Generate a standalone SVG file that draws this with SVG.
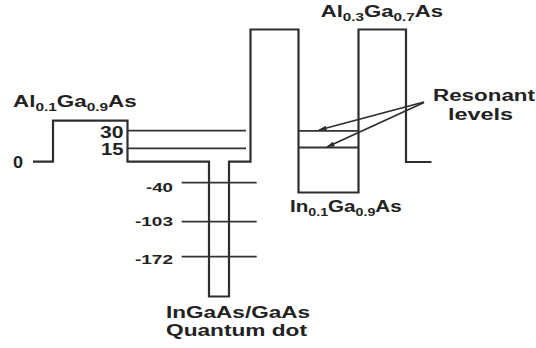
<svg xmlns="http://www.w3.org/2000/svg" width="536" height="348" viewBox="0 0 536 348">
<style>
.band{fill:none;stroke:#2e2e2e;stroke-width:2.2;stroke-linejoin:miter}
.lvl{stroke:#333;stroke-width:1.8}
.ptr{stroke:#2e2e2e;stroke-width:1.8;fill:none}
text{font-family:"Liberation Sans",Arial,sans-serif;font-weight:bold;fill:#222}
.big{font-size:16px}
.num{font-size:16px}
.small{font-size:13.5px}
.sub{font-size:11px}
</style>
<defs>
<marker id="ah" viewBox="0 0 10 6" refX="9" refY="3" markerWidth="9" markerHeight="5" markerUnits="userSpaceOnUse" orient="auto">
<path d="M0,0 L10,3 L0,6 Z" fill="#2e2e2e"/>
</marker>
</defs>
<rect width="536" height="348" fill="#fff"/>
<g id="band-profile">
<path class="band" d="M33,161.7 H53 V120.7 H127.5 V161.7 H209 V296.5 H229 V161.7 H250.5 V29.5 H298.5 V192.5 H358.5 V29.5 H406 V162 H431.5"/>
</g>
<g id="levels">
<line class="lvl" x1="127.5" y1="130.7" x2="246" y2="130.7"/>
<line class="lvl" x1="127.5" y1="148.3" x2="246" y2="148.3"/>
<line class="lvl" x1="181.7" y1="182.7" x2="256.7" y2="182.7"/>
<line class="lvl" x1="181.7" y1="221.7" x2="256.7" y2="221.7"/>
<line class="lvl" x1="181.7" y1="256.7" x2="256.7" y2="256.7"/>
<line class="lvl" x1="298.5" y1="130.8" x2="358.5" y2="130.8"/>
<line class="lvl" x1="298.5" y1="147.5" x2="358.5" y2="147.5"/>
</g>
<g id="connectors">
<line class="ptr" x1="424" y1="102" x2="319" y2="130" marker-end="url(#ah)"/>
<line class="ptr" x1="424" y1="102.5" x2="327" y2="147" marker-end="url(#ah)"/>
</g>
<g id="label-al01">
<text class="big" transform="translate(13,107) scale(1.4,1)">Al<tspan class="sub" dy="4">0.1</tspan><tspan dy="-4">Ga</tspan><tspan class="sub" dy="4">0.9</tspan><tspan dy="-4">As</tspan></text>
</g>
<g id="label-al03">
<text class="big" transform="translate(320.7,16.7) scale(1.385,1)">Al<tspan class="sub" dy="4">0.3</tspan><tspan dy="-4">Ga</tspan><tspan class="sub" dy="4">0.7</tspan><tspan dy="-4">As</tspan></text>
</g>
<g id="label-in01">
<text class="big" transform="translate(290,211.7) scale(1.29,1)">In<tspan class="sub" dy="4">0.1</tspan><tspan dy="-4">Ga</tspan><tspan class="sub" dy="4">0.9</tspan><tspan dy="-4">As</tspan></text>
</g>
<g id="label-resonant">
<text class="big" x="433" y="101" textLength="102" lengthAdjust="spacingAndGlyphs">Resonant</text>
<text class="big" x="448" y="119.5" textLength="65" lengthAdjust="spacingAndGlyphs">levels</text>
</g>
<g id="label-dot">
<text class="big" x="166" y="318.3" textLength="144" lengthAdjust="spacingAndGlyphs">InGaAs/GaAs</text>
<text class="big" x="166" y="336" textLength="141" lengthAdjust="spacingAndGlyphs">Quantum dot</text>
</g>
<g id="energy-values">
<text class="num" x="13" y="168.3" textLength="10" lengthAdjust="spacingAndGlyphs">0</text>
<text class="num" x="100" y="138.3" textLength="23.5" lengthAdjust="spacingAndGlyphs">30</text>
<text class="num" x="101" y="154.5" textLength="22.5" lengthAdjust="spacingAndGlyphs">15</text>
<text class="small" x="146" y="192" textLength="27" lengthAdjust="spacingAndGlyphs">-40</text>
<text class="small" x="135" y="226" textLength="38" lengthAdjust="spacingAndGlyphs">-103</text>
<text class="small" x="135" y="264" textLength="38" lengthAdjust="spacingAndGlyphs">-172</text>
</g>
</svg>
